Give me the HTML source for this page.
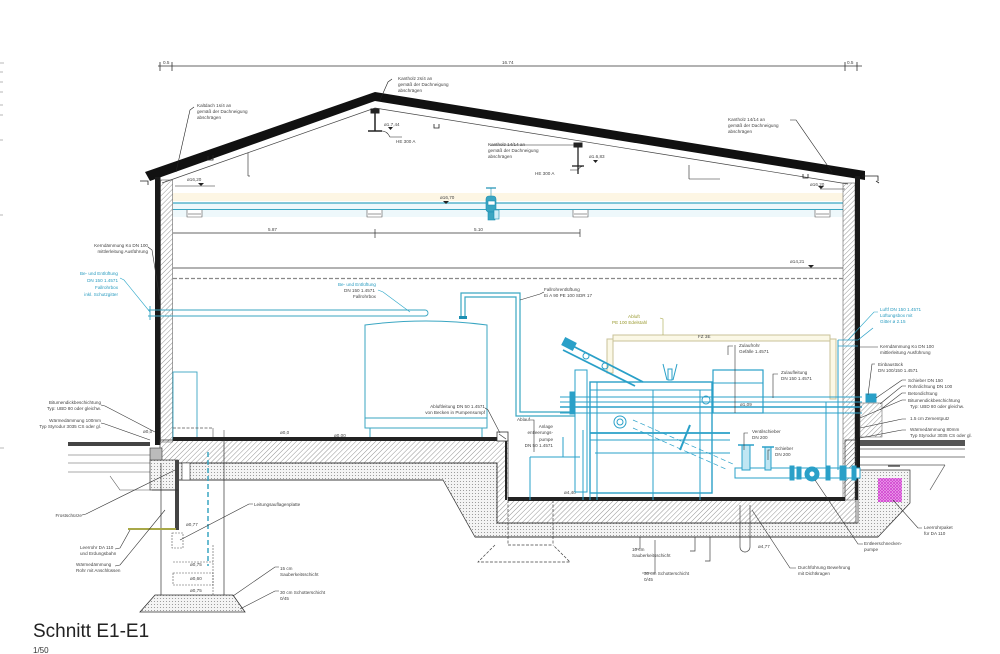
<!DOCTYPE html>
<html><head><meta charset="utf-8">
<style>
html,body{margin:0;padding:0;background:#fff;}
svg{display:block;}
text{font-family:"Liberation Sans",sans-serif;}
.t{font-size:4.6px;fill:#444;}
.c{font-size:4.6px;fill:#2a9cc0;}
.o{font-size:4.6px;fill:#9a9a30;}
</style></head>
<body>
<svg width="1000" height="654" viewBox="0 0 1000 654" xmlns="http://www.w3.org/2000/svg">
<defs>
<pattern id="h" width="3.5" height="3.5" patternUnits="userSpaceOnUse" patternTransform="rotate(45)"><line x1="0" y1="0" x2="0" y2="3.5" stroke="#666" stroke-width="0.7"/></pattern>
<pattern id="d" width="3" height="3" patternUnits="userSpaceOnUse"><rect width="3" height="3" fill="#f4f4f4"/><circle cx="1.5" cy="1.5" r="0.55" fill="#888"/></pattern>
<pattern id="m" width="3" height="3" patternUnits="userSpaceOnUse"><rect width="3" height="3" fill="#f2b8f0"/><path d="M0 0L3 3M3 0L0 3" stroke="#d040d0" stroke-width="0.8"/></pattern>
</defs>

<!-- left margin marks -->
<g stroke="#888" stroke-width="0.6">
<line x1="0" y1="63" x2="4" y2="63"/><line x1="0" y1="72" x2="3" y2="72"/><line x1="0" y1="82" x2="3" y2="82"/><line x1="0" y1="92" x2="3" y2="92"/><line x1="0" y1="105" x2="3" y2="105"/><line x1="0" y1="115" x2="3" y2="115"/><line x1="0" y1="140" x2="3" y2="140"/><line x1="0" y1="215" x2="3" y2="215"/><line x1="0" y1="448" x2="4" y2="448"/>
</g>

<!-- top dimension -->
<g stroke="#333" stroke-width="0.8">
<line x1="158" y1="66" x2="862" y2="66"/>
<line x1="160" y1="62" x2="160" y2="71"/><line x1="172" y1="62" x2="172" y2="71"/>
<line x1="845" y1="62" x2="845" y2="71"/><line x1="857" y1="62" x2="857" y2="71"/>
</g>
<text class="t" x="163" y="64">0.5</text>
<text class="t" x="502" y="64">16.74</text>
<text class="t" x="847" y="64">0.5</text>

<!-- cream band & ceiling -->
<rect x="173" y="193" width="670" height="8" fill="#fdf6e4"/>
<rect x="173" y="203" width="670" height="14" fill="#eef8fb"/>
<line x1="173" y1="203" x2="843" y2="203" stroke="#3aa6c2" stroke-width="1.3"/>
<line x1="173" y1="209.5" x2="843" y2="209.5" stroke="#3aa6c2" stroke-width="1"/>
<g fill="#fff" stroke="#555" stroke-width="0.6">
<path d="M187 210v7h15v-7"/><path d="M367 210v7h15v-7"/><path d="M573 210v7h15v-7"/><path d="M815 210v7h15v-7"/>
<line x1="188" y1="214" x2="201" y2="214"/><line x1="368" y1="214" x2="381" y2="214"/><line x1="574" y1="214" x2="587" y2="214"/><line x1="816" y1="214" x2="829" y2="214"/>
</g>
<!-- valve on ceiling -->
<g fill="#3aa6c2" stroke="#1b8fb2" stroke-width="0.6">
<line x1="486" y1="188" x2="496" y2="188" stroke-width="1.2"/>
<line x1="491" y1="188" x2="491" y2="196"/>
<rect x="486" y="196" width="10" height="16" rx="3"/>
<rect x="488" y="212" width="7" height="8"/>
<rect x="494" y="210" width="5" height="9" fill="#cfeef8"/>
<rect x="488" y="201" width="7" height="4" fill="#fff"/>
</g>

<!-- roof underside & beams -->
<polyline points="162,183 375,108 848,184" fill="none" stroke="#444" stroke-width="0.7"/>
<polygon points="145,172 375,92 865,171 865,180 375,101 150,181" fill="#111"/>
<g stroke="#222" stroke-width="0.8" fill="none">
<path d="M140 181h8v4"/><path d="M862 176h16v5M876 181l3 2"/>
<path d="M208 156v4h5v-5"/>
<path d="M434 124v4h5v-4"/>
<path d="M803 174v4h5v-4"/>
</g>
<!-- HE 300 A ridge -->
<g stroke="#222" fill="#222">
<rect x="371" y="109" width="8" height="4"/>
<line x1="375" y1="112" x2="375" y2="131" stroke-width="1.5"/>
<line x1="368" y1="131" x2="382" y2="131" stroke-width="1.5"/>
<rect x="574" y="143" width="8" height="4"/>
<line x1="578" y1="146" x2="578" y2="174" stroke-width="1.3"/>
<line x1="572" y1="166" x2="584" y2="166" stroke-width="1.3"/>
</g>
<g stroke="#222" stroke-width="0.6" fill="none">
<path d="M382 131q5 0 8 6h12"/><path d="M584 166q-4 0 -6 4h-8"/>
<line x1="248" y1="153" x2="248" y2="176"/><line x1="248" y1="176" x2="250" y2="176"/>
<line x1="689" y1="165" x2="689" y2="179"/><line x1="689" y1="179" x2="720" y2="179"/>
<line x1="175" y1="186" x2="215" y2="186"/><line x1="820" y1="189" x2="845" y2="189"/>
<!-- leaders -->
<polyline points="194,107 190,110 176,172"/>
<polyline points="392,79 388,82 380,100"/>
<polyline points="490,145 540,145 574,145"/>
<polyline points="790,120 796,120 832,172"/>
</g>
<g fill="#222">
<path d="M198 183l6 0-3 3z"/><path d="M818 186l6 0-3 3z"/><path d="M443 201l6 0-3 3z"/><path d="M808 265l6 0-3 3z"/>
<path d="M388 127l5 0-2.5 3z"/><path d="M593 160l5 0-2.5 3z"/>
</g>
<text class="t" x="197" y="107">Kaltdach 1s/4 an</text>
<text class="t" x="197" y="113">gemäß der Dachneigung</text>
<text class="t" x="197" y="119">abschrägen</text>
<text class="t" x="398" y="80">Kantholz 2s/4 an</text>
<text class="t" x="398" y="86">gemäß der Dachneigung</text>
<text class="t" x="398" y="92">abschrägen</text>
<text class="t" x="384" y="126">ø1.7,44</text>
<text class="t" x="396" y="143">HE 300 A</text>
<text class="t" x="488" y="146">Kantholz 14/14 an</text>
<text class="t" x="488" y="152">gemäß der Dachneigung</text>
<text class="t" x="488" y="158">abschrägen</text>
<text class="t" x="589" y="158">ø1.6,83</text>
<text class="t" x="535" y="175">HE 300 A</text>
<text class="t" x="728" y="121">Kantholz 14/14 an</text>
<text class="t" x="728" y="127">gemäß der Dachneigung</text>
<text class="t" x="728" y="133">abschrägen</text>
<text class="t" x="187" y="181">ø16,20</text>
<text class="t" x="810" y="186">ø16,20</text>
<text class="t" x="440" y="199">ø16,70</text>
<text class="t" x="790" y="263">ø14,21</text>

<!-- walls -->
<rect x="155" y="177" width="5.5" height="268" fill="#1a1a1a"/>
<rect x="160.5" y="180" width="12" height="262" fill="url(#h)" stroke="#444" stroke-width="0.5"/>
<rect x="843" y="183" width="12" height="317" fill="url(#h)" stroke="#444" stroke-width="0.5"/>
<rect x="855" y="176" width="5" height="324" fill="#1a1a1a"/>

<!-- inner dimension -->
<g stroke="#333" stroke-width="0.7">
<line x1="173" y1="233" x2="580" y2="233"/>
<line x1="375" y1="229" x2="375" y2="238"/>
<line x1="580" y1="229" x2="580" y2="237"/>
</g>
<text class="t" x="268" y="231">5.87</text>
<text class="t" x="474" y="231">5.10</text>
<!-- levels -->
<line x1="173" y1="268" x2="843" y2="268" stroke="#666" stroke-width="1"/>
<line x1="173" y1="278.5" x2="843" y2="278.5" stroke="#888" stroke-width="1.3" stroke-dasharray="4 2"/>

<!-- left cyan pipe through wall -->
<g stroke="#3aa6c2" stroke-width="0.9" fill="none">
<line x1="148" y1="310" x2="425" y2="310"/>
<line x1="148" y1="316" x2="425" y2="316"/>
<path d="M425 310a3 3 0 0 1 0 6"/>
<line x1="150" y1="306" x2="150" y2="320"/>
</g>
<!-- cyan rect on left wall -->
<rect x="173" y="372" width="24" height="68" fill="none" stroke="#3aa6c2" stroke-width="0.9"/>
<line x1="173" y1="428" x2="213" y2="428" stroke="#555" stroke-width="0.8" stroke-dasharray="3 1.5"/>
<line x1="213" y1="428" x2="213" y2="440" stroke="#555" stroke-width="0.6"/>
<line x1="224" y1="430" x2="224" y2="440" stroke="#555" stroke-width="0.6"/>

<!-- storage tank -->
<g stroke="#3aa6c2" stroke-width="1" fill="#fff">
<path d="M365 325q61 -8 122 0v103h-122z"/>
<line x1="365" y1="418" x2="487" y2="418"/>
<line x1="370" y1="428" x2="370" y2="440"/><line x1="482" y1="428" x2="482" y2="440"/>
</g>
<g stroke="#3aa6c2" stroke-width="1.2" fill="none">
<path d="M461 318v-25h59v119h55"/>
<path d="M465 318v-21h51v119h59"/>
</g>
<rect x="459" y="316" width="8" height="3" fill="#1b8fb2"/>

<!-- ground floor slab & foundations -->
<polygon points="173,463 497,463 497,523 858,523 858,470 910,470 910,503 878,537 475,537 443,480 173,480" fill="url(#d)" stroke="#333" stroke-width="0.7"/>
<polygon points="160,440 508,440 508,500 845,500 845,440 856,440 856,523 497,523 497,463 160,463" fill="url(#h)" stroke="#333" stroke-width="0.7"/>
<rect x="173" y="437" width="326" height="4" fill="#222"/>
<rect x="508" y="497" width="337" height="4" fill="#222"/>
<line x1="506" y1="440" x2="506" y2="500" stroke="#222" stroke-width="2"/>
<rect x="497" y="432" width="11" height="9" fill="#fff" stroke="#333" stroke-width="0.8"/>
<path d="M499 434l7 5" stroke="#333" stroke-width="0.6"/>
<line x1="443" y1="480" x2="173" y2="480" stroke="#333" stroke-width="0.7"/>
<line x1="475" y1="537" x2="878" y2="537" stroke="#333" stroke-width="1"/>

<!-- left exterior -->
<rect x="68" y="442" width="82" height="4" fill="#444"/>
<g stroke="#555" stroke-width="0.6" fill="none">
<line x1="68" y1="455" x2="150" y2="455"/>
<line x1="68" y1="463" x2="150" y2="463"/>
<line x1="68" y1="472" x2="150" y2="472"/>
<path d="M110 476l10 14h30"/>
</g>
<rect x="150" y="460" width="28" height="30" fill="url(#d)" stroke="#333" stroke-width="0.7"/>
<rect x="150" y="448" width="12" height="12" fill="#bbb" stroke="#333" stroke-width="0.6"/>
<rect x="175" y="460" width="4" height="70" fill="#444"/>
<rect x="182" y="463" width="8" height="17" fill="#fff" stroke="#333" stroke-width="0.6"/>
<g stroke="#333" stroke-width="0.7" fill="none">
<line x1="161" y1="463" x2="161" y2="595"/>
<line x1="224" y1="440" x2="224" y2="595"/>
<line x1="152" y1="490" x2="178" y2="490"/>
</g>
<polygon points="155,595 233,595 245,612 140,612" fill="url(#d)" stroke="#333" stroke-width="0.8"/>
<line x1="128" y1="529" x2="176" y2="529" stroke="#a8a848" stroke-width="2"/>
<line x1="208" y1="452" x2="208" y2="566" stroke="#3aa6c2" stroke-width="1.5" stroke-dasharray="5 3"/>
<g stroke="#555" stroke-width="0.6" fill="none" stroke-dasharray="2 1">
<rect x="172" y="533" width="11" height="15"/>
<rect x="173" y="573" width="40" height="12"/>
<line x1="173" y1="562" x2="213" y2="562"/>
<line x1="213" y1="545" x2="213" y2="595"/>
</g>

<!-- basement bottom details -->
<g stroke="#444" stroke-width="0.7" fill="none">
<path d="M508 500v45M553 500v45" stroke-dasharray="3 1.5"/>
<path d="M508 545h45M495 545l-17 17h92l-17-17" stroke-dasharray="3 1.5"/>
<path d="M740 505v42M750 505v42"/>
<path d="M740 547a5 5 0 0 0 10 0"/>
<path d="M695 537v14h-5M710 537v24h-5"/>
</g>
<text class="t" x="564" y="494">ø4,40</text>
<text class="t" x="758" y="548">ø4,77</text>

<!-- machinery -->
<g stroke="#2aa0c8" stroke-width="1" fill="none">
<rect x="613" y="335" width="217" height="6" fill="#fbf8e6" stroke="#c8c298"/>
<rect x="607" y="339" width="6" height="34" fill="#fbf8e6" stroke="#c8c298"/>
<rect x="830" y="339" width="6" height="60" fill="#fbf8e6" stroke="#c8c298"/>
<!-- long horizontals -->
<line x1="560" y1="397" x2="862" y2="397"/>
<line x1="560" y1="402" x2="862" y2="402"/>
<line x1="560" y1="407" x2="862" y2="407" stroke-width="1.4"/>
<line x1="560" y1="413" x2="862" y2="413"/>
<!-- conveyor -->
<path d="M565 342l78 40M563 350l72 36" stroke-width="1.8"/>
<rect x="563" y="340" width="12" height="8" fill="#2aa0c8" transform="rotate(27 569 344)"/>
<circle cx="586" cy="356" r="3"/><circle cx="605" cy="366" r="3"/>
<!-- columns -->
<rect x="575" y="370" width="12" height="122"/>
<rect x="570" y="392" width="5" height="22" fill="#2aa0c8"/>
<!-- main tank -->
<rect x="590" y="382" width="122" height="111" stroke-width="1.4"/>
<line x1="590" y1="390" x2="712" y2="390"/>
<line x1="590" y1="433" x2="730" y2="433" stroke-width="1.8"/>
<line x1="590" y1="440" x2="730" y2="440"/>
<line x1="595" y1="453" x2="730" y2="453"/>
<line x1="597" y1="493" x2="597" y2="500"/><line x1="653" y1="493" x2="653" y2="500"/><line x1="700" y1="493" x2="700" y2="500"/>
<line x1="597" y1="382" x2="597" y2="493"/><line x1="653" y1="390" x2="653" y2="493"/><line x1="700" y1="390" x2="700" y2="493"/>
<circle cx="620" cy="422" r="6"/><circle cx="620" cy="422" r="3"/>
<path d="M633 420l100 44M633 428l95 42" stroke-dasharray="5 3" stroke-width="0.7"/>
<path d="M680 450l10 -25" stroke-width="2"/>
<path d="M667 380l-4 -16M673 380l4 -16"/>
<rect x="668" y="369" width="4" height="11"/>
<!-- box -->
<rect x="713" y="370" width="50" height="43" stroke-width="1.2"/>
<line x1="713" y1="383" x2="763" y2="383"/>
<circle cx="706" cy="400" r="4"/>
<line x1="735" y1="345" x2="735" y2="413" stroke="#333" stroke-width="0.6"/>
<!-- lower pipe -->
<rect x="735" y="468" width="125" height="10" fill="#fff"/>
<rect x="742" y="445" width="8" height="25" fill="#bfe6f3"/>
<line x1="738" y1="445" x2="754" y2="445" stroke-width="1.5"/>
<rect x="765" y="447" width="6" height="23" fill="#bfe6f3"/>
<line x1="762" y1="447" x2="774" y2="447" stroke-width="1.5"/>
<circle cx="812" cy="474" r="7" fill="#2aa0c8"/>
<circle cx="812" cy="474" r="3" fill="#fff"/>
<rect x="790" y="466" width="4" height="14" fill="#2aa0c8"/><rect x="797" y="467" width="4" height="12" fill="#2aa0c8"/>
<rect x="826" y="466" width="4" height="14" fill="#2aa0c8"/><rect x="840" y="466" width="6" height="14" fill="#2aa0c8"/><rect x="852" y="466" width="4" height="14" fill="#2aa0c8"/>
<line x1="826" y1="402" x2="826" y2="468"/><line x1="838" y1="340" x2="838" y2="470"/>
<!-- drain pump pipe -->
<path d="M530 457h50M530 457v43M563 457v-20"/>
<line x1="583" y1="430" x2="583" y2="500"/><line x1="590" y1="430" x2="590" y2="500"/>
<!-- right wall pipe -->
<path d="M838 340h20M838 346h20M858 340l15 -12" stroke-width="0.8"/>
<rect x="866" y="394" width="10" height="8" fill="#2aa0c8"/>
</g>
<rect x="860" y="403" width="22" height="34" fill="url(#h)" stroke="#555" stroke-width="0.5"/>
<!-- right exterior -->
<rect x="860" y="440" width="105" height="6" fill="#555"/>
<g stroke="#555" stroke-width="0.7" fill="none">
<line x1="860" y1="449" x2="965" y2="449"/>
<line x1="860" y1="457" x2="965" y2="457"/>
<line x1="860" y1="465" x2="945" y2="465"/>
<path d="M945 465l-15 25"/>
<line x1="888" y1="466" x2="900" y2="466" stroke-width="1.5"/>
</g>
<rect x="878" y="478" width="24" height="24" fill="url(#m)"/>

<!-- leaders for lower/side labels -->
<g stroke="#333" stroke-width="0.6" fill="none">
<polyline points="148,247 152,250 160,300"/>
<polyline points="120,278 124,280 150,312" stroke="#2aa6c8"/>
<polyline points="378,290 383,292 410,312" stroke="#2aa6c8"/>
<polyline points="544,292 540,294 520,300"/>
<polyline points="660,318 663,319 663,335" stroke="#a8a848"/>
<polyline points="733,346 728,346 728,355"/>
<polyline points="778,374 773,374 773,398"/>
<polyline points="485,408 488,410 500,433"/>
<polyline points="530,420 534,420 534,452"/>
<polyline points="101,405 105,406 155,432"/>
<polyline points="101,423 105,424 150,440"/>
<polyline points="82,515 86,514 175,470"/>
<polyline points="115,549 120,548 130,530"/>
<polyline points="115,566 120,565 165,510"/>
<polyline points="253,504 249,504 180,540"/>
<polyline points="279,567 275,567 233,596"/>
<polyline points="279,591 275,591 240,609"/>
<polyline points="748,433 744,433 744,450"/>
<polyline points="770,450 768,450 768,460"/>
<polyline points="635,549 640,549 640,537"/>
<polyline points="642,573 655,573 655,540"/>
<polyline points="796,568 790,568 752,510"/>
<polyline points="863,544 858,544 815,480"/>
<polyline points="922,528 918,528 893,500"/>
<polyline points="878,312 874,312 848,340" stroke="#2aa6c8"/>
<polyline points="878,347 874,347 860,347"/>
<polyline points="875,364 872,364 868,395"/>
<polyline points="906,380 902,380 876,398"/>
<polyline points="906,386 902,386 880,404"/>
<polyline points="906,393 902,393 880,410"/>
<polyline points="906,400 902,400 860,418"/>
<polyline points="906,419 902,419 860,428"/>
<polyline points="906,430 902,430 860,438"/>
</g>

<!-- labels -->
<g class="t">
<text class="t" x="148" y="247" text-anchor="end">Kerndämmung Ko DN 100</text>
<text class="t" x="148" y="253" text-anchor="end">mittlerleitung Ausführung</text>
<text class="t" x="101" y="404" text-anchor="end">Bitumendickbeschichtung</text>
<text class="t" x="101" y="410" text-anchor="end">Typ: UBD 80 oder gleichw.</text>
<text class="t" x="101" y="422" text-anchor="end">Wärmedämmung 100mm</text>
<text class="t" x="101" y="428" text-anchor="end">Typ Styrodur 3035 CS oder gl.</text>
<text class="t" x="143" y="433">ø0,0</text>
<text class="t" x="280" y="434">ø0,0</text>
<text class="t" x="334" y="437">ø0,00</text>
<text class="t" x="82" y="517" text-anchor="end">Frostschürze</text>
<text class="t" x="80" y="549">Leerrohr DA 110</text>
<text class="t" x="80" y="555">und Erdungsbahn</text>
<text class="t" x="76" y="566">Wärmedämmung</text>
<text class="t" x="76" y="572">Rohr mit Anschlüssen</text>
<text class="t" x="254" y="506">Leitungsauflagenplatte</text>
<text class="t" x="186" y="526">ø0,77</text>
<text class="t" x="190" y="566">ø0,75</text>
<text class="t" x="190" y="580">ø0,60</text>
<text class="t" x="190" y="592">ø0,75</text>
<text class="t" x="280" y="570">15 cm</text>
<text class="t" x="280" y="576">Sauberkeitsschicht</text>
<text class="t" x="280" y="594">30 cm Schotterschicht</text>
<text class="t" x="280" y="600">0/45</text>
<text class="t" x="344" y="292">DN 150 1.4571</text>
<text class="t" x="353" y="298">Fallrohrbox</text>
<text class="t" x="544" y="291">Fallrohrentlüftung</text>
<text class="t" x="544" y="297">Ei A 90 PE 100 SDR 17</text>
<text class="t" x="485" y="408" text-anchor="end">Abluftleitung DN 50 1.4571</text>
<text class="t" x="485" y="414" text-anchor="end">von Becken in Pumpensumpf</text>
<text class="t" x="530" y="421" text-anchor="end">Ablauf</text>
<text class="t" x="553" y="428" text-anchor="end">Anlage</text>
<text class="t" x="553" y="434" text-anchor="end">entleerungs-</text>
<text class="t" x="553" y="441" text-anchor="end">pumpe</text>
<text class="t" x="553" y="447" text-anchor="end">DN 50 1.4571</text>
<text class="t" x="698" y="338">FZ 3E</text>
<text class="t" x="739" y="347">Zulaufrohr</text>
<text class="t" x="739" y="353">Gefälle 1.4571</text>
<text class="t" x="781" y="374">Zulaufleitung</text>
<text class="t" x="781" y="380">DN 150 1.4571</text>
<text class="t" x="740" y="406">ø1,09</text>
<text class="t" x="752" y="433">Ventilschieber</text>
<text class="t" x="752" y="439">DN 200</text>
<text class="t" x="775" y="450">Schieber</text>
<text class="t" x="775" y="456">DN 200</text>
<text class="t" x="632" y="551">10 cm</text>
<text class="t" x="632" y="557">Sauberkeitsschicht</text>
<text class="t" x="644" y="575">30 cm Schotterschicht</text>
<text class="t" x="644" y="581">0/45</text>
<text class="t" x="798" y="569">Durchführung Bewehrung</text>
<text class="t" x="798" y="575">mit Dichtkragen</text>
<text class="t" x="864" y="545">Entleerschnecken-</text>
<text class="t" x="864" y="551">pumpe</text>
<text class="t" x="924" y="529">Leerrohrpaket</text>
<text class="t" x="924" y="535">für DA 110</text>
<text class="t" x="880" y="348">Kerndämmung Ko DN 100</text>
<text class="t" x="880" y="354">mittlerleitung Ausführung</text>
<text class="t" x="878" y="366">Einbaustück</text>
<text class="t" x="878" y="372">DN 100/150 1.4571</text>
<text class="t" x="908" y="382">Schieber DN 150</text>
<text class="t" x="908" y="388">Rohrdichtung DN 100</text>
<text class="t" x="908" y="395">Betondichtung</text>
<text class="t" x="908" y="402">Bitumendickbeschichtung</text>
<text class="t" x="910" y="408">Typ: UBD 80 oder gleichw.</text>
<text class="t" x="910" y="420">1.5 cm Zementputz</text>
<text class="t" x="910" y="431">Wärmedämmung 80mm</text>
<text class="t" x="910" y="437">Typ Styrodur 3035 CS oder gl.</text>
</g>
<text class="c" x="118" y="275" text-anchor="end">Be- und Entlüftung</text>
<text class="c" x="118" y="282" text-anchor="end">DN 150 1.4571</text>
<text class="c" x="118" y="289" text-anchor="end">Fallrohrbox</text>
<text class="c" x="118" y="296" text-anchor="end">inkl. Schutzgitter</text>
<text class="c" x="376" y="286" text-anchor="end">Be- und Entlüftung</text>
<text class="c" x="880" y="311">Luftf DN 150 1.4571</text>
<text class="c" x="880" y="317">Lüftungsbox mit</text>
<text class="c" x="880" y="323">Gitter ø 2.15</text>
<text class="o" x="628" y="318">Abluft</text>
<text class="o" x="612" y="324">PE 100 Edelstahl</text>

<!-- title -->
<text x="33" y="637" style="font-size:19px;fill:#222;">Schnitt E1-E1</text>
<text x="33" y="653" style="font-size:8px;fill:#333;">1/50</text>
</svg>
</body></html>
